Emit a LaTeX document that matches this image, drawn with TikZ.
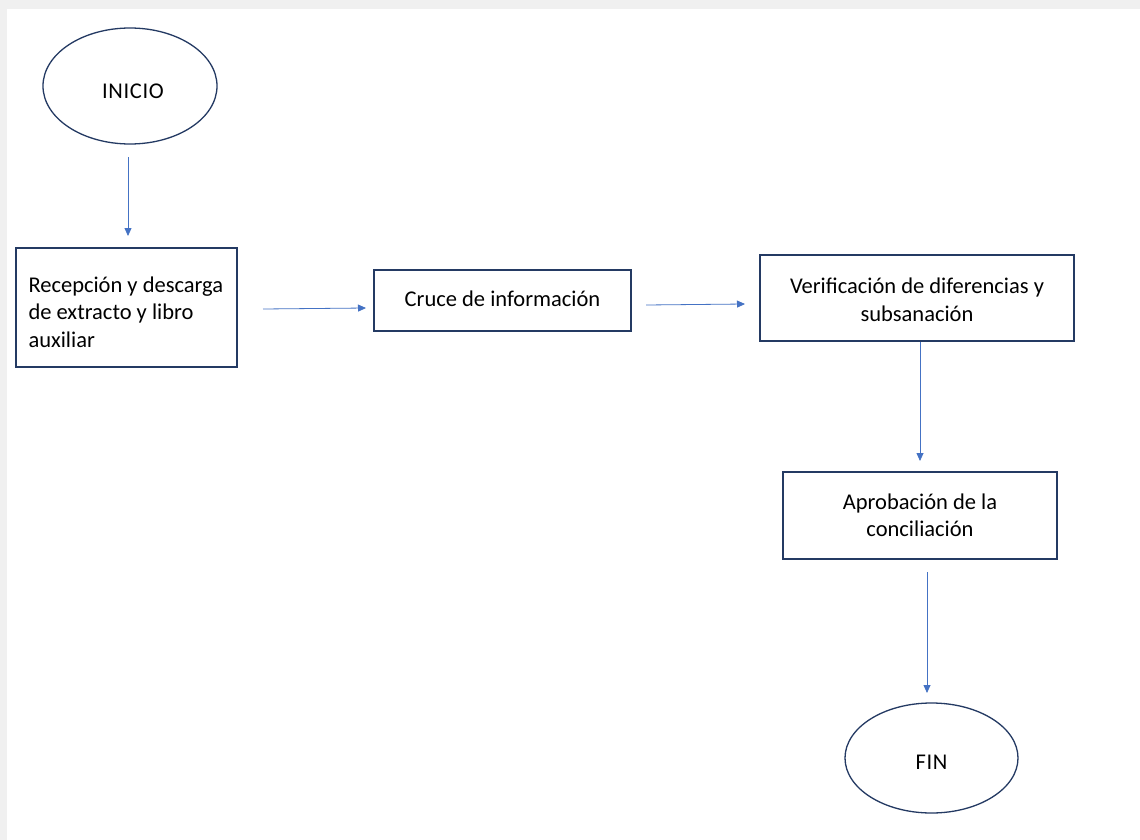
\documentclass[tikz,border=0pt]{standalone}
\usepackage{fontspec}
\setmainfont{Carlito}
\usetikzlibrary{arrows.meta,shapes.geometric}
\definecolor{framegray}{HTML}{F0F0F0}
\definecolor{edge}{HTML}{243A63}
\definecolor{flow}{HTML}{4472C4}
% text block whose first baseline sits #1 below the node centre
\newcommand{\lowered}[3]{\raisebox{-#1}[0pt][0pt]{\parbox[t]{#2}{#3}}}
\tikzset{
  stepbox/.style={draw=edge, line width=1.3pt, fill=white, rectangle, align=center,
    inner sep=0pt, font=\fontsize{22.5}{27.5}\selectfont},
  terminal/.style={draw=edge, line width=1.3pt, fill=white, ellipse, inner sep=0pt,
    font=\fontsize{22.5}{24}\selectfont\addfontfeatures{LetterSpace=3}},
  flowarrow/.style={draw=flow, line width=0.8pt, -{Triangle[length=8pt,width=7pt]}}
}
\begin{document}
\begin{tikzpicture}[x=1pt,y=-1pt]
  % page background with thin frame band
  \fill[framegray] (0,0) rectangle (1140,840);
  \fill[white] (7,9) rectangle (1140,840);
  \useasboundingbox (0,0) rectangle (1140,840);

  % process steps
  \node[terminal, minimum width=174pt, minimum height=116pt] (inicio) at (130,86)
    {\lowered{13pt}{80pt}{\centering\hspace{6pt}INICIO}};
  \node[stepbox, minimum width=221pt, minimum height=119pt] (recep) at (126.5,307.5)
    {\lowered{-15.5pt}{196pt}{\raggedright Recepción y descarga\\ de extracto y libro\\ auxiliar}};
  \node[stepbox, minimum width=257pt, minimum height=61pt] (cruce) at (502.5,300.5)
    {\lowered{5.5pt}{240pt}{\centering Cruce de información}};
  \node[stepbox, minimum width=314pt, minimum height=86pt] (verif) at (917,298)
    {\lowered{-4.5pt}{300pt}{\centering Verificación de diferencias y\\ subsanación}};
  \node[stepbox, minimum width=274pt, minimum height=87pt] (aprob) at (920,515.5)
    {\lowered{-6.5pt}{260pt}{\centering Aprobación de la\\ conciliación}};
  \node[terminal, minimum width=173pt, minimum height=110pt] (fin) at (931.5,758)
    {\lowered{11.5pt}{80pt}{\centering FIN}};

  % connector end points
  \coordinate (a1s) at (128,157);  \coordinate (a1e) at (128,236);
  \coordinate (a2s) at (263,309);  \coordinate (a2e) at (366,308);
  \coordinate (a3s) at (646,305);  \coordinate (a3e) at (745,304);
  \coordinate (a4s) at (920,342);  \coordinate (a4e) at (920,461);
  \coordinate (a5s) at (927,572);  \coordinate (a5e) at (927,693);

  % flow connectors
  \draw[flowarrow] (a1s) -- (a1e);
  \draw[flowarrow] (a2s) -- (a2e);
  \draw[flowarrow] (a3s) -- (a3e);
  \draw[flowarrow] (a4s) -- (a4e);
  \draw[flowarrow] (a5s) -- (a5e);
\end{tikzpicture}
\end{document}
